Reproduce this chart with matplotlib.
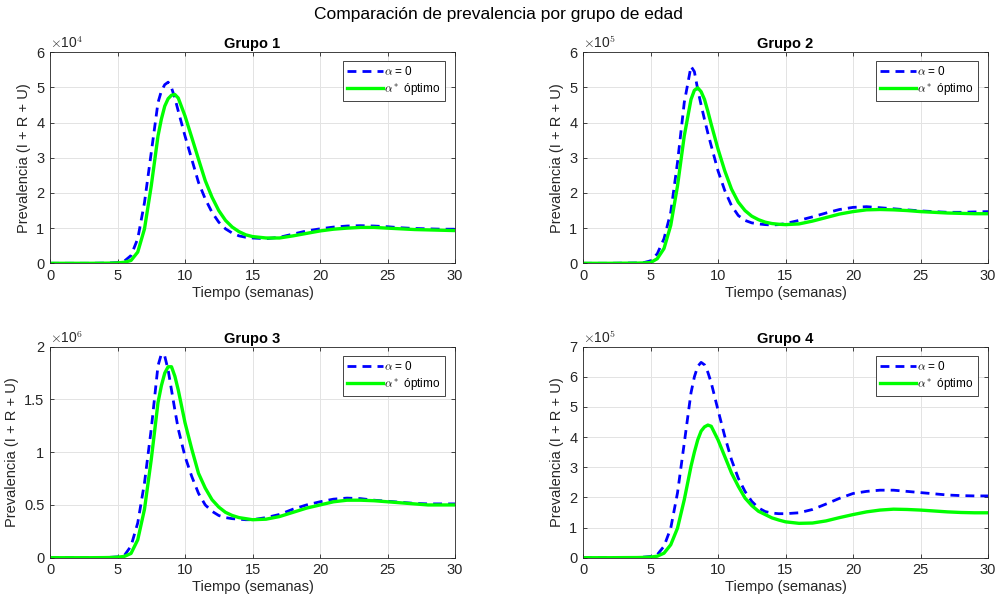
import numpy as np
import matplotlib
matplotlib.use("Agg")
import matplotlib.pyplot as plt
from matplotlib.ticker import FuncFormatter, MultipleLocator

plt.rcParams['font.family'] = ['Liberation Sans', 'DejaVu Sans']
plt.rcParams['mathtext.fontset'] = 'cm'

# Time grid (weeks)
t = np.array([0, 1, 2, 3, 4, 4.5, 5, 5.5, 6, 6.5, 7, 7.5, 8, 8.25, 8.5, 8.75,
              9, 9.25, 9.5, 10, 10.5, 11, 11.5, 12, 12.5, 13, 13.5, 14, 14.5,
              15, 16, 17, 18, 19, 20, 21, 22, 23, 24, 25, 26, 27, 28, 29, 30])

# Prevalence (I + R + U), in units of each group's scale
g1_scale = 1e4
g1_base = np.array([0, 0, 0, 0, 0.005, 0.01, 0.02, 0.06, 0.22, 0.7, 1.73, 3.15, 4.57, 4.9, 5.08, 5.15,
                    4.99, 4.7, 4.33, 3.62, 2.96, 2.3, 1.83, 1.45, 1.17, 0.98, 0.86, 0.78, 0.74,
                    0.72, 0.70, 0.74, 0.83, 0.92, 0.98, 1.03, 1.06, 1.07, 1.06, 1.04, 1.01, 0.99, 0.98, 0.97, 0.97])
g1_opt = np.array([0, 0, 0, 0, 0.003, 0.005, 0.01, 0.03, 0.08, 0.32, 0.98, 2.2, 3.62, 4.1, 4.47, 4.68,
                   4.78, 4.8, 4.7, 4.19, 3.58, 2.96, 2.35, 1.88, 1.5, 1.22, 1.03, 0.9, 0.81,
                   0.76, 0.72, 0.72, 0.78, 0.85, 0.92, 0.97, 1.0, 1.02, 1.02, 1.0, 0.98, 0.96, 0.95, 0.94, 0.93])

g2_scale = 1e5
g2_base = np.array([0, 0, 0, 0.005, 0.01, 0.02, 0.07, 0.27, 0.7, 1.45, 2.87, 4.57, 5.6, 5.45, 4.94, 4.5,
                    4.09, 3.7, 3.34, 2.63, 2.07, 1.64, 1.36, 1.22, 1.15, 1.12, 1.1, 1.09, 1.1,
                    1.13, 1.22, 1.32, 1.43, 1.53, 1.59, 1.61, 1.58, 1.55, 1.52, 1.49, 1.47, 1.45, 1.45, 1.46, 1.47])
g2_opt = np.array([0, 0, 0, 0.003, 0.005, 0.01, 0.02, 0.13, 0.42, 1.08, 2.2, 3.62, 4.66, 4.92, 4.99, 4.88,
                   4.66, 4.32, 3.95, 3.25, 2.63, 2.11, 1.74, 1.5, 1.34, 1.24, 1.17, 1.13, 1.11,
                   1.1, 1.12, 1.2, 1.3, 1.4, 1.47, 1.52, 1.53, 1.52, 1.5, 1.47, 1.45, 1.43, 1.42, 1.41, 1.41])

g3_scale = 1e6
g3_base = np.array([0, 0, 0, 0, 0.002, 0.004, 0.008, 0.02, 0.11, 0.33, 0.71, 1.22, 1.82, 1.93, 1.91, 1.78,
                    1.59, 1.4, 1.22, 0.96, 0.77, 0.61, 0.5, 0.44, 0.4, 0.38, 0.37, 0.365, 0.36,
                    0.36, 0.38, 0.41, 0.46, 0.5, 0.53, 0.555, 0.565, 0.56, 0.545, 0.535, 0.525, 0.515, 0.51, 0.51, 0.51])
g3_opt = np.array([0, 0, 0, 0, 0.001, 0.002, 0.005, 0.012, 0.04, 0.17, 0.46, 0.93, 1.47, 1.63, 1.75, 1.81,
                   1.81, 1.72, 1.59, 1.28, 1.03, 0.8, 0.66, 0.55, 0.48, 0.43, 0.40, 0.38, 0.37,
                   0.36, 0.365, 0.39, 0.43, 0.47, 0.5, 0.53, 0.545, 0.545, 0.54, 0.53, 0.52, 0.51, 0.5, 0.5, 0.5])

g4_scale = 1e5
g4_base = np.array([0, 0, 0, 0.005, 0.01, 0.02, 0.04, 0.1, 0.38, 0.98, 2.15, 3.8, 5.47, 6.0, 6.35, 6.48,
                    6.4, 6.15, 5.8, 4.9, 4.03, 3.25, 2.64, 2.2, 1.87, 1.65, 1.53, 1.48, 1.46,
                    1.46, 1.49, 1.6, 1.78, 1.97, 2.13, 2.2, 2.24, 2.24, 2.2, 2.16, 2.12, 2.08, 2.06, 2.05, 2.05])
g4_opt = np.array([0, 0, 0, 0.003, 0.005, 0.01, 0.02, 0.05, 0.15, 0.43, 0.98, 1.92, 3.03, 3.5, 3.91, 4.2,
                   4.34, 4.4, 4.36, 3.91, 3.36, 2.81, 2.37, 1.98, 1.73, 1.54, 1.43, 1.32, 1.25,
                   1.19, 1.14, 1.15, 1.22, 1.33, 1.43, 1.52, 1.58, 1.61, 1.6, 1.58, 1.55, 1.52, 1.5, 1.49, 1.49])

groups = ["Grupo 1", "Grupo 2", "Grupo 3", "Grupo 4"]
scales = [g1_scale, g2_scale, g3_scale, g4_scale]
exponents = [4, 5, 6, 5]
base_series = [g1_base, g2_base, g3_base, g4_base]
opt_series = [g1_opt, g2_opt, g3_opt, g4_opt]
y_max = [6, 6, 2, 7]
y_step = [1, 1, 0.5, 1]

W, H = 997, 603
fig = plt.figure(figsize=(W / 100, H / 100), dpi=100)

# axes boxes in pixels: left, top, right, bottom
boxes = [(50, 52.3, 455, 263.3), (583, 52.3, 988, 263.3),
         (50, 346.7, 455, 557.7), (583, 346.7, 988, 557.7)]

ink = '#262626'
for i in range(4):
    l, tp, r, b = boxes[i]
    ax = fig.add_axes([l / W, 1 - b / H, (r - l) / W, (b - tp) / H])
    s = scales[i]
    ax.plot(t, base_series[i] * s, color=(0, 0, 1), ls=(0, (3.2, 2.2)), lw=2.0, label=r'$\alpha$ = 0')
    ax.plot(t, opt_series[i] * s, color=(0, 1, 0), lw=2.4, label=r'$\alpha^*$ óptimo')
    ax.set_xlim(0, 30)
    ax.set_ylim(0, y_max[i] * s)
    ax.xaxis.set_major_locator(MultipleLocator(5))
    ax.yaxis.set_major_locator(MultipleLocator(y_step[i] * s))
    ax.yaxis.set_major_formatter(FuncFormatter(lambda v, _, s=s: f"{v / s:g}"))
    ax.grid(True, color='#e3e3e3', lw=0.7)
    ax.set_axisbelow(True)
    ax.tick_params(direction='in', length=3, width=0.6, top=True, right=True,
                   labelsize=10.5, colors=ink, pad=4)
    for sp in ax.spines.values():
        sp.set_color(ink)
        sp.set_linewidth(0.6)
    ax.set_title(groups[i], fontsize=10.5, fontweight='bold', pad=3, color='black')
    ax.set_xlabel('Tiempo (semanas)', fontsize=10.5, color=ink, labelpad=2)
    ax.set_ylabel('Prevalencia (I + R + U)', fontsize=10.5, color=ink, labelpad=4)
    ax.text(0.0, 1.005, r'$\times$10$^{%d}$' % exponents[i], transform=ax.transAxes,
            fontsize=10, color=ink, ha='left', va='bottom')
    leg = ax.legend(loc='upper right', bbox_to_anchor=(0.975, 0.958), fontsize=8.5,
                    handlelength=3.0, handletextpad=0.15, borderpad=0.35, labelspacing=0.25,
                    fancybox=False, framealpha=1, edgecolor=ink, borderaxespad=0)
    leg.get_frame().set_linewidth(0.6)

fig.suptitle('Comparación de prevalencia por grupo de edad', fontsize=12.5, y=0.988, color='black')
fig.savefig('out.png', dpi=100)
